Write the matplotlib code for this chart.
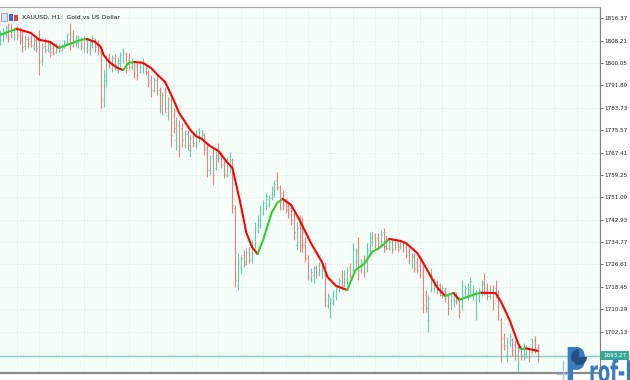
import numpy as np
import matplotlib
matplotlib.use("Agg")
import matplotlib.pyplot as plt
from matplotlib.collections import LineCollection
from matplotlib.textpath import TextPath
from matplotlib.patches import PathPatch, Rectangle, Wedge
from matplotlib.font_manager import FontProperties
from matplotlib.transforms import Affine2D, blended_transform_factory

# ---------------- data (XAUUSD H1, one value per bar) ----------------
opens = [
    1807.7, 1808.4, 1810.6, 1813.2, 1812.1, 1809.5, 1812.1, 1810.6, 1809.2, 1806.2,
    1808.8, 1808.1, 1806.2, 1808.4, 1808.4, 1801.1, 1806.2, 1804.8, 1807.0, 1805.5,
    1804.1, 1806.2, 1804.8, 1805.9, 1807.3, 1811.0, 1809.9, 1807.0, 1807.3, 1808.8,
    1805.5, 1808.4, 1804.8, 1806.6, 1808.4, 1806.6, 1804.1, 1786.6, 1793.8, 1801.9,
    1798.2, 1801.9, 1797.5, 1800.0, 1801.1, 1803.3, 1801.1, 1798.6, 1800.4, 1799.0,
    1796.8, 1798.2, 1799.3, 1796.8, 1793.8, 1790.2, 1793.8, 1790.2, 1782.9, 1789.5,
    1781.1, 1786.6, 1781.1, 1772.0, 1777.4, 1776.3, 1770.1, 1774.1, 1768.3, 1773.4,
    1770.1, 1772.7, 1773.1, 1773.8, 1769.0, 1761.0, 1766.1, 1761.8, 1768.3, 1766.5,
    1763.2, 1759.6, 1762.9, 1764.7, 1747.2, 1719.1, 1725.3, 1730.1, 1727.5, 1731.1,
    1729.0, 1733.7, 1739.2, 1741.0, 1745.7, 1747.9, 1748.6, 1750.8, 1752.3, 1757.4,
    1754.5, 1751.6, 1749.4, 1747.9, 1746.5, 1744.6, 1733.7, 1741.0, 1742.1, 1733.7,
    1729.0, 1721.7, 1722.8, 1725.3, 1723.5, 1724.6, 1726.0, 1711.8, 1710.0, 1712.9,
    1715.1, 1717.3, 1722.4, 1719.1, 1720.9, 1725.7, 1724.6, 1727.5, 1731.9, 1724.6,
    1728.2, 1725.3, 1731.9, 1734.8, 1737.0, 1736.2, 1734.1, 1738.4, 1735.5, 1732.6,
    1734.8, 1732.6, 1734.4, 1733.0, 1734.1, 1733.0, 1731.1, 1726.4, 1729.7, 1727.5,
    1726.0, 1724.6, 1715.5, 1706.4, 1717.3, 1718.0, 1720.2, 1719.1, 1715.5, 1717.3,
    1715.1, 1711.8, 1713.7, 1715.8, 1713.7, 1711.5, 1716.6, 1715.8, 1717.3, 1715.1,
    1713.7, 1714.4, 1716.2, 1720.2, 1718.0, 1715.1, 1717.3, 1718.0, 1715.5, 1706.4,
    1699.8, 1693.6, 1698.3, 1699.1, 1697.3, 1690.0, 1695.8, 1693.6, 1694.0, 1695.8,
    1694.7, 1699.1, 1696.2,
]
highs = [
    1812.1, 1812.8, 1813.9, 1814.6, 1814.3, 1813.2, 1813.5, 1813.2, 1812.1, 1810.2,
    1809.9, 1810.2, 1809.5, 1809.9, 1812.1, 1807.3, 1809.2, 1808.4, 1807.7, 1806.6,
    1807.3, 1807.0, 1807.0, 1808.4, 1811.0, 1814.6, 1812.1, 1810.2, 1810.2, 1809.5,
    1809.9, 1809.2, 1808.4, 1810.2, 1809.2, 1808.4, 1804.8, 1797.5, 1802.9, 1803.7,
    1802.9, 1803.3, 1802.2, 1804.1, 1805.5, 1804.1, 1803.7, 1801.9, 1801.1, 1800.0,
    1800.0, 1801.9, 1800.0, 1797.5, 1795.7, 1795.0, 1795.7, 1791.3, 1789.5, 1791.3,
    1787.6, 1787.6, 1783.6, 1780.4, 1779.3, 1778.2, 1775.6, 1775.6, 1773.8, 1774.9,
    1775.6, 1776.3, 1775.6, 1774.5, 1770.9, 1766.5, 1769.0, 1768.3, 1770.9, 1767.6,
    1764.7, 1765.8, 1767.6, 1765.4, 1748.3, 1730.8, 1730.1, 1731.9, 1732.6, 1733.0,
    1735.5, 1742.1, 1744.6, 1748.3, 1750.1, 1752.7, 1751.9, 1755.2, 1757.4, 1760.3,
    1755.6, 1753.7, 1750.8, 1749.0, 1748.3, 1746.5, 1742.1, 1744.6, 1743.9, 1736.6,
    1730.1, 1725.3, 1726.0, 1726.4, 1727.5, 1727.5, 1727.5, 1716.2, 1714.7, 1717.3,
    1719.1, 1722.0, 1724.6, 1724.6, 1725.7, 1727.1, 1734.4, 1732.6, 1736.6, 1729.0,
    1730.1, 1734.4, 1738.4, 1738.4, 1738.1, 1738.1, 1739.2, 1739.9, 1737.3, 1736.2,
    1735.5, 1735.5, 1735.5, 1735.5, 1734.8, 1734.4, 1732.6, 1730.8, 1730.8, 1729.3,
    1729.0, 1727.5, 1717.3, 1715.5, 1725.3, 1721.7, 1720.9, 1719.8, 1719.1, 1718.4,
    1716.2, 1716.2, 1716.6, 1716.6, 1714.7, 1720.9, 1719.1, 1719.8, 1722.0, 1719.1,
    1717.3, 1718.0, 1720.9, 1723.5, 1719.8, 1719.1, 1719.1, 1720.9, 1717.3, 1707.1,
    1701.6, 1700.2, 1701.6, 1699.8, 1699.1, 1697.3, 1696.9, 1698.0, 1697.3, 1696.5,
    1699.8, 1700.5, 1697.6,
]
lows = [
    1806.6, 1807.7, 1809.2, 1807.7, 1809.2, 1808.4, 1808.4, 1807.0, 1804.1, 1804.8,
    1805.5, 1805.9, 1804.8, 1804.1, 1795.7, 1799.3, 1803.7, 1804.1, 1802.2, 1802.9,
    1803.7, 1804.1, 1804.4, 1805.5, 1806.6, 1804.8, 1805.9, 1805.9, 1805.5, 1804.8,
    1804.1, 1803.7, 1802.9, 1805.5, 1804.1, 1802.9, 1783.6, 1784.0, 1791.3, 1798.2,
    1796.8, 1797.5, 1796.4, 1798.6, 1800.0, 1796.4, 1797.5, 1797.5, 1794.6, 1793.8,
    1796.4, 1796.4, 1795.7, 1791.3, 1787.6, 1789.5, 1788.4, 1781.8, 1781.1, 1781.8,
    1779.3, 1769.4, 1774.5, 1768.3, 1765.8, 1769.4, 1769.0, 1768.3, 1765.8, 1769.4,
    1769.0, 1771.2, 1772.0, 1766.5, 1758.5, 1759.2, 1755.6, 1761.0, 1764.0, 1761.8,
    1758.1, 1758.5, 1759.9, 1745.4, 1718.4, 1717.3, 1723.5, 1725.7, 1726.4, 1727.1,
    1727.1, 1732.6, 1738.1, 1739.9, 1744.6, 1746.5, 1747.5, 1750.1, 1751.2, 1753.7,
    1746.5, 1746.5, 1745.4, 1743.5, 1741.0, 1735.5, 1731.9, 1731.1, 1731.1, 1727.5,
    1720.9, 1720.2, 1719.8, 1721.7, 1722.4, 1721.7, 1711.1, 1710.7, 1707.1, 1711.8,
    1713.7, 1716.6, 1717.3, 1718.4, 1719.1, 1721.7, 1723.9, 1725.7, 1720.9, 1723.5,
    1722.0, 1723.9, 1730.8, 1733.3, 1732.6, 1731.9, 1733.3, 1731.1, 1731.9, 1731.9,
    1730.8, 1731.9, 1731.1, 1732.2, 1731.1, 1729.0, 1726.8, 1725.3, 1723.9, 1723.5,
    1721.7, 1708.9, 1709.3, 1702.0, 1716.6, 1716.6, 1715.8, 1715.1, 1714.4, 1712.9,
    1708.2, 1710.0, 1711.1, 1712.2, 1707.1, 1710.0, 1714.4, 1713.7, 1715.8, 1713.7,
    1706.4, 1712.9, 1715.1, 1715.5, 1713.7, 1714.0, 1710.0, 1714.4, 1706.4, 1691.1,
    1695.4, 1691.1, 1696.9, 1693.2, 1691.8, 1687.0, 1691.8, 1691.8, 1692.5, 1691.1,
    1694.0, 1694.3, 1691.1,
]
closes = [
    1811.0, 1811.7, 1813.2, 1809.5, 1810.2, 1812.1, 1809.9, 1808.4, 1805.9, 1808.8,
    1807.0, 1806.6, 1808.4, 1805.5, 1800.4, 1805.9, 1804.8, 1807.3, 1804.1, 1803.7,
    1806.2, 1804.8, 1806.2, 1807.7, 1810.2, 1807.0, 1807.7, 1809.2, 1809.5, 1806.2,
    1808.4, 1805.1, 1807.7, 1809.2, 1805.9, 1804.8, 1787.3, 1795.7, 1801.1, 1799.3,
    1801.9, 1799.0, 1801.1, 1802.9, 1804.4, 1798.2, 1799.0, 1800.8, 1796.4, 1795.7,
    1799.3, 1800.4, 1796.8, 1793.1, 1790.2, 1793.8, 1790.2, 1784.7, 1788.4, 1783.6,
    1786.6, 1773.8, 1776.3, 1778.5, 1770.1, 1772.0, 1774.1, 1770.1, 1772.7, 1770.9,
    1774.1, 1775.3, 1774.5, 1768.3, 1761.0, 1765.4, 1759.2, 1766.5, 1765.4, 1762.9,
    1759.2, 1764.0, 1766.1, 1748.3, 1720.9, 1727.5, 1729.0, 1726.8, 1731.1, 1728.2,
    1733.7, 1739.9, 1742.8, 1746.5, 1749.0, 1751.6, 1750.8, 1754.1, 1755.9, 1754.8,
    1749.4, 1748.3, 1746.5, 1745.0, 1742.8, 1738.4, 1739.9, 1733.7, 1733.7, 1729.0,
    1722.4, 1723.9, 1725.3, 1722.8, 1726.4, 1726.0, 1713.7, 1715.1, 1713.7, 1716.2,
    1718.0, 1720.9, 1718.8, 1723.1, 1724.6, 1722.8, 1731.9, 1731.1, 1724.6, 1727.5,
    1723.9, 1731.9, 1736.2, 1737.3, 1733.7, 1733.3, 1737.7, 1733.3, 1732.6, 1735.2,
    1731.9, 1734.8, 1732.2, 1734.8, 1731.9, 1730.1, 1728.2, 1729.3, 1725.3, 1724.6,
    1722.8, 1711.8, 1710.7, 1714.4, 1722.8, 1720.6, 1717.3, 1716.6, 1718.0, 1714.4,
    1710.7, 1715.1, 1715.8, 1713.3, 1709.3, 1718.8, 1718.0, 1718.4, 1720.6, 1717.7,
    1716.2, 1716.9, 1719.5, 1716.6, 1715.1, 1717.7, 1712.6, 1715.5, 1708.2, 1697.3,
    1696.9, 1699.1, 1700.5, 1695.4, 1693.6, 1695.4, 1693.2, 1696.5, 1696.2, 1692.9,
    1698.3, 1695.8, 1693.27,
]

# moving-average line (bar index, price)
ma_bar = [0, 6, 11, 14, 18, 21, 25, 29, 31, 34,
          36, 37, 39, 42, 44, 46, 48, 51, 54, 56,
          59, 62, 64, 68, 70, 72, 75, 78, 81, 83,
          84, 86, 88, 90, 92, 94, 97, 99, 101, 104,
          107, 111, 115, 117, 120, 124, 127, 130, 133, 136,
          139, 143, 145, 149, 151, 154, 156, 159, 162, 164,
          167, 170, 172, 177, 179, 182, 185, 186, 188, 192]
ma_val = [1810.3, 1812.5, 1811.0, 1808.5, 1807.7, 1805.5, 1807.0, 1808.5, 1808.8, 1807.7,
          1805.9, 1803.0, 1800.4, 1798.2, 1797.5, 1800.1, 1800.4, 1800.1, 1798.2, 1796.0,
          1793.1, 1786.6, 1781.8, 1775.6, 1773.4, 1772.4, 1769.8, 1768.0, 1764.0, 1761.8,
          1757.4, 1748.3, 1738.1, 1733.0, 1730.4, 1735.6, 1745.4, 1749.0, 1750.5, 1748.3,
          1742.8, 1734.5, 1727.5, 1722.0, 1718.8, 1717.3, 1724.6, 1726.8, 1731.2, 1733.0,
          1735.9, 1735.2, 1734.4, 1730.8, 1727.5, 1722.0, 1718.4, 1715.1, 1716.2, 1713.7,
          1714.8, 1715.9, 1716.3, 1716.2, 1712.9, 1706.4, 1698.0, 1695.8, 1696.0, 1695.1]

price_levels = [1816.37, 1808.21, 1800.05, 1791.89, 1783.73, 1775.57, 1767.41, 1759.25,
                1751.09, 1742.93, 1734.77, 1726.61, 1718.45, 1710.29, 1702.13, 1693.97]
price_labels = ["1816.37", "1808.21", "1800.05", "1791.89", "1783.73", "1775.57", "1767.41",
                "1759.25", "1751.09", "1742.93", "1734.77", "1726.61", "1718.45", "1710.29",
                "1702.13", ""]
title_text = "XAUUSD, H1:  Gold vs US Dollar"
logo_p = "P"
logo_rest = "rof-F"

assert len(opens) == len(highs) == len(lows) == len(closes)
assert len(ma_bar) == len(ma_val)

# ---------------- figure ----------------
UP = "#66cdaa"      # MediumAquamarine
DOWN = "#f08080"    # LightCoral
BG = "#f5fffa"      # MintCream

fig = plt.figure(figsize=(6.3, 3.8), dpi=100, facecolor="white")
ax = fig.add_axes([0.0, 7 / 380, 600 / 630, 366 / 380])
ax.set_facecolor(BG)
ax.set_xlim(0.0, 214.3)
ax.set_ylim(1687.04, 1820.45)

# grid
ax.set_axisbelow(True)
ax.set_xticks(np.arange(6, 215, 8))
ax.tick_params(axis="x", length=0, labelbottom=False)
ax.set_yticks(price_levels)
ax.set_yticklabels(price_labels)
ax.grid(True, color="#e0e6e2", lw=0.5, ls=(0, (2, 2)))
ax.yaxis.tick_right()
ax.tick_params(axis="y", direction="out", length=2.2, width=0.6, color="#555555",
               labelsize=4.1, pad=0.9, labelcolor="#1a1a1a")
for lab in ax.get_yticklabels():
    lab.set_family("DejaVu Sans")

ax.spines["left"].set_visible(False)
ax.spines["top"].set_color("#a6a6a6")
ax.spines["top"].set_linewidth(0.8)
ax.spines["right"].set_color("#7f7f7f")
ax.spines["right"].set_linewidth(0.8)
ax.spines["bottom"].set_color("#8a8a8a")
ax.spines["bottom"].set_linewidth(1.6)

# current price line
last_close = closes[-1]
ax.axhline(last_close, color="#84cfc5", lw=1.0, zorder=1.8)

# OHLC bars
segs, cols = [], []
tick = 0.38
for i, (o, h, l, c) in enumerate(zip(opens, highs, lows, closes)):
    col = UP if c > o else DOWN
    segs.append([(i, l), (i, h)])
    segs.append([(i - tick, o), (i, o)])
    segs.append([(i, c), (i + tick, c)])
    cols += [col, col, col]
ax.add_collection(LineCollection(segs, colors=cols, linewidths=0.8, zorder=2))

# moving average coloured by direction
GREEN, RED = "#32cd32", "#ff0000"
diff_cols = [GREEN if ma_val[k + 1] > ma_val[k] else RED for k in range(len(ma_val) - 1)]
start = 0
for k in range(1, len(diff_cols) + 1):
    if k == len(diff_cols) or diff_cols[k] != diff_cols[start]:
        ax.plot(ma_bar[start:k + 1], ma_val[start:k + 1], color=diff_cols[start], lw=1.5,
                solid_capstyle="round", solid_joinstyle="round", zorder=3)
        start = k

# current price box on the price scale
trans = blended_transform_factory(ax.transAxes, ax.transData)
ax.text(1.0055, last_close, f"{last_close:.2f}", transform=trans, ha="left", va="center",
        fontsize=4.1, color="white", family="DejaVu Sans", clip_on=False, zorder=6,
        bbox=dict(boxstyle="square,pad=0.35", fc="#38a898", ec="none"))

# ---------------- overlay: title, icons, logo ----------------
ov = fig.add_axes([0, 0, 1, 1], zorder=10)
ov.set_xlim(0, 630)
ov.set_ylim(380, 0)
ov.axis("off")
ov.patch.set_alpha(0)

ov.add_patch(Rectangle((0.5, 12.5), 6.5, 8, fc="#dfe3f0", ec="#7d88a8", lw=0.5))
ov.add_patch(Rectangle((8.5, 13.5), 4, 7, fc="#4a63d6", ec="none"))
ov.add_patch(Rectangle((13.5, 15.0), 4.5, 5.5, fc="#dd4545", ec="none"))
ov.text(22.5, 16.8, title_text, fontsize=4.4, ha="left", va="center", color="#111111",
        family="DejaVu Sans")

fp = FontProperties(family="DejaVu Sans", weight="bold")
logo_blue = "#3a7cc0"
ov.plot([557, 567], [374, 374], color="#a9c2e0", lw=1.0)
ov.plot([563, 563], [361, 380], color="#a9c2e0", lw=1.0)
tp = TextPath((0, 0), logo_p, size=1, prop=fp)
ov.add_patch(PathPatch(tp, transform=Affine2D().scale(29, -48).translate(565, 382) + ov.transData,
                       fc=logo_blue, ec="none"))
ov.add_patch(Wedge((579, 357), 8, 0, 270, fc="#24507f", ec="none"))
tp2 = TextPath((0, 0), logo_rest, size=1, prop=fp)
ov.add_patch(PathPatch(tp2, transform=Affine2D().scale(18, -30).translate(589, 382) + ov.transData,
                       fc=logo_blue, ec="none"))

fig.savefig("out.png", dpi=100, facecolor="white")
